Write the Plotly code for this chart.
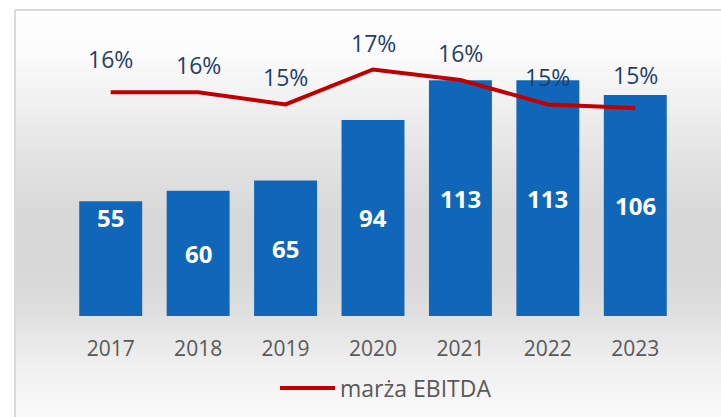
import plotly.graph_objects as go

years = ["2017", "2018", "2019", "2020", "2021", "2022", "2023"]
ebitda = [55, 60, 65, 94, 113, 113, 106]
margin_pct = [15.7, 15.7, 15.0, 17.0, 16.4, 15.0, 14.8]
margin_labels = ["16%", "16%", "15%", "17%", "16%", "15%", "15%"]
series_name = "marża EBITDA"

W_FIG, H_FIG = 721, 417
L, R, T, B = 67, 42, 24, 101
PW = W_FIG - L - R
PH = H_FIG - T - B


def xp(px):
    return (px - L) / PW


def yp(py):
    return (H_FIG - B - py) / PH


# background vertical gradient (pixel y, gray level)
stops = [(10, 254), (50, 252), (100, 241), (167, 225), (217, 216), (267, 216),
         (300, 220), (333, 230), (367, 240), (417, 250)]


def gray_at(y):
    for (y0, g0), (y1, g1) in zip(stops, stops[1:]):
        if y0 <= y <= y1:
            return g0 + (g1 - g0) * (y - y0) / (y1 - y0)
    return stops[-1][1]


shapes = []
step = 3
y = 10
while y < 417:
    g = int(round(gray_at(y + step / 2)))
    shapes.append(dict(type="rect", xref="paper", yref="paper",
                       x0=xp(16), x1=xp(721), y0=yp(y + step + 0.5), y1=yp(y),
                       fillcolor=f"rgb({g},{g},{g})", line=dict(width=0),
                       layer="below"))
    y += step
# frame lines
shapes.append(dict(type="line", xref="paper", yref="paper", x0=xp(15), x1=xp(721),
                   y0=yp(10), y1=yp(10), line=dict(color="#d9d9d9", width=2), layer="below"))
shapes.append(dict(type="line", xref="paper", yref="paper", x0=xp(15), x1=xp(15),
                   y0=yp(10), y1=yp(417), line=dict(color="#d9d9d9", width=2), layer="below"))

fig = go.Figure()
fig.add_trace(go.Bar(
    x=years, y=ebitda, name="EBITDA",
    marker=dict(color="#1067BA", line=dict(width=0)),
    showlegend=False, hoverinfo="x+y",
))
fig.add_trace(go.Scatter(
    x=years, y=margin_pct, name=series_name, yaxis="y2",
    mode="lines", line=dict(color="#C00000", width=4),
))

annotations = []
# bar value labels (white, bold)
for i, v in enumerate(ebitda):
    if i == 0:
        ay, ys = v, -16
    else:
        ay, ys = v / 2, 0
    annotations.append(dict(x=i, y=ay, xref="x", yref="y", text=f"<b>{v}</b>",
                            showarrow=False, yshift=ys,
                            font=dict(family="Open Sans", size=24, color="white")))
# margin labels above the line
label_shift = [33, 27, 27, 26, 27, 27, 33]
for i, (v, t) in enumerate(zip(margin_pct, margin_labels)):
    annotations.append(dict(x=i, y=v, xref="x", yref="y2", text=t,
                            showarrow=False, yshift=label_shift[i],
                            font=dict(family="Open Sans", size=23, color="#1F3F6B")))

fig.update_layout(
    width=W_FIG, height=H_FIG,
    margin=dict(l=L, r=R, t=T, b=B, pad=0, autoexpand=False),
    paper_bgcolor="white", plot_bgcolor="rgba(0,0,0,0)",
    bargap=0.28,
    xaxis=dict(type="category", showgrid=False, showline=False, zeroline=False, ticks="",
               ticklabelstandoff=18,
               tickfont=dict(family="Open Sans", size=21, color="#595959")),
    yaxis=dict(range=[0, 140], visible=False, showgrid=False),
    yaxis2=dict(range=[2.9, 19.6], overlaying="y", visible=False, showgrid=False),
    showlegend=True,
    legend=dict(orientation="h", x=xp(275), xanchor="left", y=yp(388), yanchor="middle",
                bgcolor="rgba(0,0,0,0)", itemwidth=55,
                font=dict(family="Open Sans", size=23, color="#595959")),
    shapes=shapes,
    annotations=annotations,
)

fig.write_html("out.html", config={"displayModeBar": False},
               post_script="document.body.style.margin='0';document.body.style.overflow='hidden';")
